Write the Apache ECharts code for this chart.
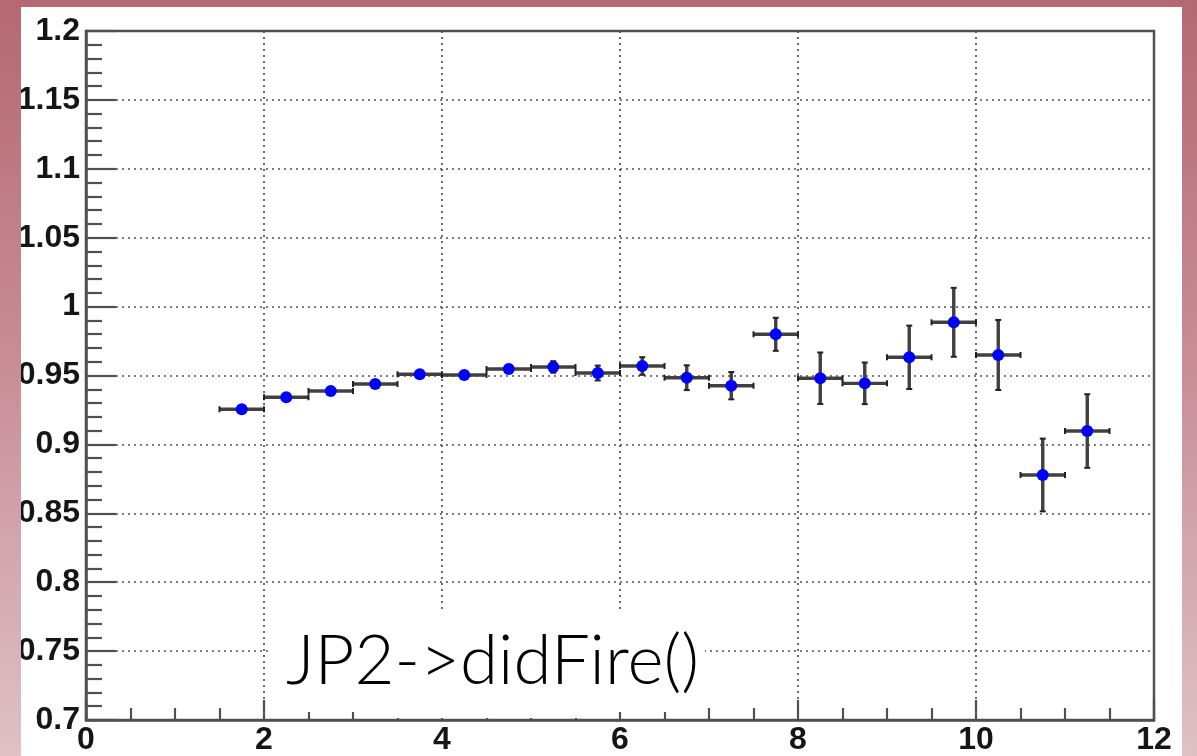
<!DOCTYPE html>
<html>
<head>
<meta charset="utf-8">
<script src="https://cdn.jsdelivr.net/npm/echarts@6/dist/echarts.min.js"></script>
<style>html,body{margin:0;padding:0;background:#fff}#c{width:1197px;height:756px}</style>
</head>
<body>
<div id="c"></div>
<script>
// ---- data ----
const xCenters = [1.75, 2.25, 2.75, 3.25, 3.75, 4.25, 4.75, 5.25, 5.75, 6.25, 6.75, 7.25, 7.75, 8.25, 8.75, 9.25, 9.75, 10.25, 10.75, 11.25];
const values   = [0.9255, 0.9342, 0.9388, 0.9438, 0.9509, 0.9504, 0.9547, 0.9562, 0.9518, 0.9569, 0.9484, 0.9426, 0.9799, 0.9480, 0.9443, 0.9632, 0.9886, 0.9649, 0.8778, 0.9097];
const errors   = [0.0020, 0.0020, 0.0020, 0.0022, 0.0025, 0.0025, 0.0030, 0.0042, 0.0054, 0.0064, 0.0090, 0.0099, 0.0120, 0.0187, 0.0151, 0.0230, 0.0250, 0.0254, 0.0264, 0.0267];
const binHalfWidth = 0.25;
const xTicks = [0, 2, 4, 6, 8, 10, 12];
const yTicks = [0.7, 0.75, 0.8, 0.85, 0.9, 0.95, 1, 1.05, 1.1, 1.15, 1.2];
const labelText = 'JP2->didFire()';

const errData = xCenters.map((x, i) => [x, values[i], errors[i]]);
const ptData = xCenters.map((x, i) => [x, values[i]]);

const grad = {type: 'linear', x: 0, y: 0, x2: 0, y2: 756, global: true,
  colorStops: [{offset: 0, color: '#b46872'}, {offset: 0.5, color: '#c98f99'}, {offset: 1, color: '#dfc1c6'}]};

const chart = echarts.init(document.getElementById('c'), null, {renderer: 'canvas'});
const barColor = '#404040';
chart.setOption({
  animation: false,
  backgroundColor: '#fff',
  grid: {left: 86, right: 43, top: 31, bottom: 36, show: true, borderColor: '#505050', borderWidth: 2.5, z: 0},
  xAxis: {
    type: 'value', min: xTicks[0], max: xTicks[xTicks.length - 1], interval: 2,
    axisLine: {show: true, onZero: false, lineStyle: {color: '#505050', width: 2.5}},
    axisTick: {show: true, inside: true, length: 20, lineStyle: {color: '#505050', width: 2.2}},
    minorTick: {show: true, splitNumber: 4, length: 12, lineStyle: {color: '#505050', width: 2.2}},
    axisLabel: {color: '#151515', fontFamily: 'Liberation Sans', fontWeight: 'bold', fontSize: 32, margin: 4},
    splitLine: {show: true, lineStyle: {color: '#505050', width: 1.7, type: [2, 4]}}
  },
  yAxis: {
    type: 'value', min: yTicks[0], max: yTicks[yTicks.length - 1], interval: 0.05,
    axisLine: {show: true, onZero: false, lineStyle: {color: '#505050', width: 2.5}},
    axisTick: {show: true, inside: true, length: 30, lineStyle: {color: '#505050', width: 2.2}},
    minorTick: {show: true, splitNumber: 5, length: 16, lineStyle: {color: '#505050', width: 2.2}},
    axisLabel: {color: '#151515', fontFamily: 'Liberation Sans', fontWeight: 'bold', fontSize: 32, margin: 6,
      formatter: v => String(parseFloat(v.toFixed(2)))},
    splitLine: {show: true, lineStyle: {color: '#505050', width: 1.7, type: [2, 4]}}
  },
  graphic: [
    {type: 'rect', shape: {x: 0, y: 0, width: 1197, height: 756}, style: {fill: grad}, z: -100, silent: true},
    {type: 'rect', shape: {x: 21, y: 7, width: 1161, height: 749}, style: {fill: '#fff'}, z: -99, silent: true},
    {type: 'rect', shape: {x: 268, y: 612, width: 437, height: 100}, style: {fill: '#fff'}, z: 1, silent: true},
    {type: 'rect', shape: {x: 362, y: 700, width: 252, height: 18}, style: {fill: '#fff'}, z: 1, silent: true},
    {type: 'text', x: 286, y: 662, z: 2, style: {text: labelText, fill: '#000', font: '300 69px "Lato", "Roboto", sans-serif', verticalAlign: 'middle'}},
    {type: 'rect', shape: {x: 0, y: 0, width: 21, height: 756}, style: {fill: grad}, z: 100, silent: true},
    {type: 'rect', shape: {x: 1182, y: 0, width: 15, height: 756}, style: {fill: grad}, z: 100, silent: true},
    {type: 'rect', shape: {x: 0, y: 0, width: 1197, height: 7}, style: {fill: grad}, z: 100, silent: true}
  ],
  series: [
    {
      type: 'custom', data: errData, encode: {x: 0, y: 1}, z: 3,
      renderItem: function (params, api) {
        const x = api.value(0), y = api.value(1), e = api.value(2);
        const pL = api.coord([x - binHalfWidth, y]);
        const pR = api.coord([x + binHalfWidth, y]);
        const pT = api.coord([x, y + e]);
        const pB = api.coord([x, y - e]);
        const st = {stroke: barColor, lineWidth: 3.4};
        const cap = 3;
        const cs = {stroke: '#222', lineWidth: 2};
        return {type: 'group', children: [
          {type: 'line', shape: {x1: pL[0], y1: pL[1], x2: pR[0], y2: pR[1]}, style: st},
          {type: 'line', shape: {x1: pT[0], y1: pT[1], x2: pB[0], y2: pB[1]}, style: st},
          {type: 'line', shape: {x1: pL[0], y1: pL[1] - cap, x2: pL[0], y2: pL[1] + cap}, style: cs},
          {type: 'line', shape: {x1: pR[0], y1: pR[1] - cap, x2: pR[0], y2: pR[1] + cap}, style: cs},
          {type: 'line', shape: {x1: pT[0] - cap, y1: pT[1], x2: pT[0] + cap, y2: pT[1]}, style: cs},
          {type: 'line', shape: {x1: pB[0] - cap, y1: pB[1], x2: pB[0] + cap, y2: pB[1]}, style: cs}
        ]};
      }
    },
    {
      type: 'scatter', data: ptData, symbol: 'circle', symbolSize: 12, z: 4,
      itemStyle: {color: '#0000ff', opacity: 1}
    }
  ]
});
</script>
</body>
</html>
